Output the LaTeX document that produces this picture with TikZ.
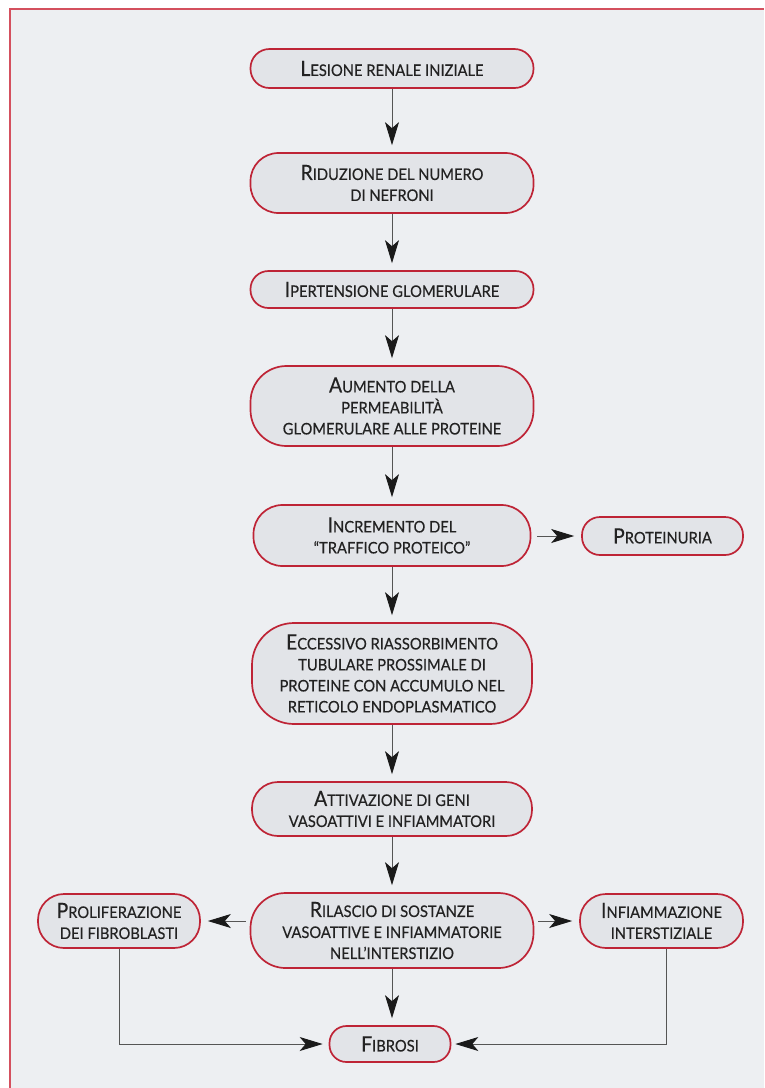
\documentclass[tikz,border=0pt]{standalone}
\usepackage{fontspec}
\setmainfont{Lato}[FakeStretch=0.92,FakeBold=0.35]
\usetikzlibrary{arrows.meta}
\definecolor{bg}{HTML}{EDEFF2}
\definecolor{nodefill}{HTML}{E2E4E8}
\definecolor{nodered}{HTML}{BE2436}
\definecolor{framered}{HTML}{D4505E}
\definecolor{ink}{HTML}{222222}
\definecolor{arrowgray}{HTML}{555555}
\definecolor{tipgray}{HTML}{1A1A1A}
\newcommand\Ini[1]{{\fontsize{21}{21}\selectfont #1}}
\tikzset{
  box/.style={draw=nodered, line width=1.7pt, fill=nodefill, align=center,
    inner sep=0pt, text=ink, font=\fontsize{16}{21}\selectfont},
  arr/.style={draw=arrowgray, line width=0.9pt,
    -{Stealth[length=23pt,width=14pt,inset=6pt,color=tipgray]}, shorten >=7pt},
}
\begin{document}
\begin{tikzpicture}[x=1pt,y=-1pt]
\useasboundingbox (0,0) rectangle (764,1088);
\fill[white] (0,0) rectangle (764,1088);
\fill[bg] (10,9) rectangle (764,1088);
\draw[framered, line width=2pt] (10,1088) -- (10,9) -- (764,9);

\node[box, minimum width=283pt, minimum height=39pt, rounded corners=19pt] (n1) at (392,68.5)
  {\Ini{L}ESIONE RENALE INIZIALE};
\node[box, minimum width=283pt, minimum height=60pt, rounded corners=28pt] (n2) at (392,183)
  {\Ini{R}IDUZIONE DEL NUMERO\\DI NEFRONI};
\node[box, minimum width=283pt, minimum height=37pt, rounded corners=18pt] (n3) at (392,289.5)
  {\Ini{I}PERTENSIONE GLOMERULARE};
\node[box, minimum width=283pt, minimum height=80pt, rounded corners=36pt] (n4) at (392,406)
  {\Ini{A}UMENTO DELLA\\PERMEABILITÀ\\GLOMERULARE ALLE PROTEINE};
\node[box, minimum width=277pt, minimum height=61pt, rounded corners=29pt] (n5) at (392,535.5)
  {\Ini{I}NCREMENTO DEL\\“TRAFFICO PROTEICO”};
\node[box, minimum width=161pt, minimum height=38pt, rounded corners=18pt] (prot) at (662.5,536)
  {\Ini{P}ROTEINURIA};
\node[box, minimum width=280pt, minimum height=101pt, rounded corners=42pt] (n6) at (392,673.5)
  {\Ini{E}CCESSIVO RIASSORBIMENTO\\TUBULARE PROSSIMALE DI\\PROTEINE CON ACCUMULO NEL\\RETICOLO ENDOPLASMATICO};
\node[box, minimum width=280pt, minimum height=54pt, rounded corners=26pt] (n7) at (392,809)
  {\Ini{A}TTIVAZIONE DI GENI\\VASOATTIVI E INFIAMMATORI};
\node[box, minimum width=283pt, minimum height=75pt, rounded corners=35pt] (n8) at (392,930.5)
  {\Ini{R}ILASCIO DI SOSTANZE\\VASOATTIVE E INFIAMMATORIE\\NELL’INTERSTIZIO};
\node[box, minimum width=162pt, minimum height=54pt, rounded corners=26pt] (prolif) at (119,921)
  {\Ini{P}ROLIFERAZIONE\\DEI FIBROBLASTI};
\node[box, minimum width=163pt, minimum height=54pt, rounded corners=26pt] (infl) at (661.5,921)
  {\Ini{I}NFIAMMAZIONE\\INTERSTIZIALE};
\node[box, minimum width=121pt, minimum height=36pt, rounded corners=17pt] (fib) at (390,1044)
  {\Ini{F}IBROSI};

\draw[arr] (n1.south) -- (n1.south |- n2.north);
\draw[arr] (n2.south) -- (n2.south |- n3.north);
\draw[arr] (n3.south) -- (n3.south |- n4.north);
\draw[arr] (n4.south) -- (n4.south |- n5.north);
\draw[arr] (n5.south) -- (n5.south |- n6.north);
\draw[arr] (n6.south) -- (n6.south |- n7.north);
\draw[arr] (n7.south) -- (n7.south |- n8.north);
\draw[arr] (n8.south) -- (n8.south |- fib.north);
\draw[arr, shorten <=6pt] (n5.east |- prot.west) -- (prot.west);
\draw[arr, shorten <=4pt] (n8.west |- prolif.east) -- (prolif.east);
\draw[arr, shorten <=4pt] (n8.east |- infl.west) -- (infl.west);
\draw[arr, shorten >=6pt] (prolif.south) |- (fib.west);
\draw[arr, shorten >=4pt] ([xshift=5pt]infl.south) |- (fib.east);
\end{tikzpicture}
\end{document}
